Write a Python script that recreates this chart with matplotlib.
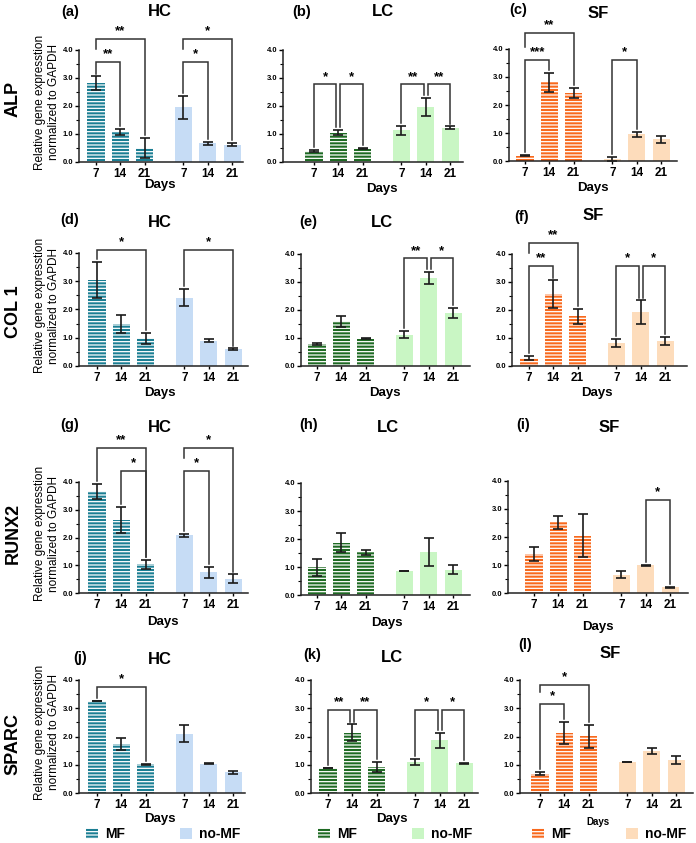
import numpy as np
import matplotlib.pyplot as plt
from matplotlib.patches import Patch

plt.rcParams['font.family'] = ['Liberation Sans', 'DejaVu Sans']
plt.rcParams['hatch.linewidth'] = 0.9

genes = ['ALP', 'COL 1', 'RUNX2', 'SPARC']
groups = ['HC', 'LC', 'SF']
day_labels = ['7', '14', '21', '7', '14', '21']
bar_x = [0, 1, 2, 3.6, 4.6, 5.6]

# each row: MF day 7/14/21, then no-MF day 7/14/21 ; rows HC, LC, SF
alp_mean = [[2.82, 1.07, 0.50, 1.95, 0.67, 0.62],
            [0.39, 1.05, 0.47, 1.13, 1.97, 1.22],
            [0.19, 2.81, 2.43, 0.08, 0.95, 0.77]]
alp_sd = [[0.24, 0.11, 0.35, 0.42, 0.06, 0.05],
          [0.04, 0.10, 0.02, 0.17, 0.32, 0.05],
          [0.02, 0.35, 0.19, 0.07, 0.10, 0.14]]

col1_mean = [[3.05, 1.50, 0.98, 2.42, 0.90, 0.60],
             [0.78, 1.60, 0.98, 1.12, 3.15, 1.90],
             [0.28, 2.56, 1.77, 0.83, 1.92, 0.90]]
col1_sd = [[0.63, 0.32, 0.20, 0.31, 0.06, 0.02],
           [0.03, 0.20, 0.02, 0.12, 0.21, 0.17],
           [0.07, 0.50, 0.26, 0.15, 0.42, 0.14]]

runx2_mean = [[3.67, 2.64, 1.03, 2.08, 0.74, 0.52],
              [0.99, 1.87, 1.52, 0.85, 1.53, 0.91],
              [1.38, 2.52, 2.04, 0.66, 0.99, 0.20]]
runx2_sd = [[0.27, 0.46, 0.15, 0.05, 0.19, 0.15],
            [0.30, 0.34, 0.10, 0.01, 0.50, 0.15],
            [0.25, 0.24, 0.77, 0.14, 0.01, 0.02]]

sparc_mean = [[3.25, 1.73, 1.01, 2.10, 1.04, 0.74],
              [0.88, 2.13, 0.92, 1.11, 1.86, 1.05],
              [0.69, 2.12, 2.01, 1.10, 1.49, 1.16]]
sparc_sd = [[0.01, 0.20, 0.03, 0.31, 0.01, 0.05],
            [0.01, 0.30, 0.17, 0.11, 0.27, 0.01],
            [0.06, 0.40, 0.41, 0.01, 0.10, 0.14]]

# significance brackets: (bar i, bar j, height, label)
alp_sig = [[(0, 1, 3.57, '**'), (0, 2, 4.39, '**'), (3, 4, 3.57, '*'), (3, 5, 4.39, '*')],
           [(0, 1, 2.77, '*'), (1, 2, 2.77, '*'), (3, 4, 2.77, '**'), (4, 5, 2.77, '**')],
           [(0, 1, 3.62, '***'), (0, 2, 4.57, '**'), (3, 4, 3.62, '*')]]
col1_sig = [[(0, 2, 4.12, '*'), (3, 5, 4.12, '*')],
            [(3, 4, 3.84, '**'), (4, 5, 3.84, '*')],
            [(0, 1, 3.57, '**'), (0, 2, 4.40, '**'), (3, 4, 3.57, '*'), (4, 5, 3.57, '*')]]
runx2_sig = [[(0, 2, 5.24, '**'), (1, 2, 4.40, '*'), (3, 5, 5.24, '*'), (3, 4, 4.40, '*')],
             [],
             [(4, 5, 3.32, '*')]]
sparc_sig = [[(0, 2, 3.74, '*')],
             [(0, 1, 2.93, '**'), (1, 2, 2.93, '**'), (3, 4, 2.93, '*'), (4, 5, 2.93, '*')],
             [(0, 1, 3.14, '*'), (0, 2, 3.82, '*')]]

means = [alp_mean, col1_mean, runx2_mean, sparc_mean]
sds = [alp_sd, col1_sd, runx2_sd, sparc_sd]
sigs = [alp_sig, col1_sig, runx2_sig, sparc_sig]

mf_colors = ['#1b7e93', '#1e6a23', '#f8691d']
nomf_colors = ['#c6dcf5', '#c9f6c4', '#fddcbb']

W, H = 696, 843
# panel layout in pixels: left, right, top(4.0), bottom(0.0), first bar centre
layout = [[(79, 243, 50, 162, 96), (283, 463, 50, 162, 314), (509, 677, 49, 161, 525)],
          [(79, 248, 253, 366, 97), (301, 470, 254, 366, 317), (512, 687, 254, 366, 529)],
          [(79, 248, 482, 593, 97), (301, 470, 483, 595, 317), (508, 688, 481, 593, 534)],
          [(79, 245, 680, 793, 97), (311, 478, 680, 793, 328), (520, 693, 680, 793, 540)]]
# title x, title y, letter x, letter y, days x, days y
titles = [[(160, 12, 70, 12, 160, 185), (383, 12, 302, 12, 382, 189), (598, 13, 518, 10, 593, 188)],
          [(160, 223, 70, 220, 160, 393), (382, 223, 308, 222, 385, 393), (593, 215, 522, 217, 597, 393)],
          [(160, 428, 70, 425, 163, 622), (388, 428, 309, 425, 387, 623), (609, 428, 523, 425, 598, 627)],
          [(160, 660, 80, 658, 160, 819), (392, 657, 312, 655, 392, 819), (610, 653, 525, 645, 598, 822)]]
letters = 'abcdefghijkl'
row_label_y = [99, 312, 533, 744]

fig = plt.figure(figsize=(W / 100, H / 100), dpi=100)
u = 24.3

for r in range(4):
    for c in range(3):
        L, R, T, B, b0 = layout[r][c]
        ax = fig.add_axes([L / W, 1 - B / H, (R - L) / W, (B - T) / H])
        ax.set_xlim((L - b0) / u, (R - b0) / u)
        ax.set_ylim(0, 4)
        m = means[r][c]
        s = sds[r][c]
        ekw = dict(ecolor='#1a1a1a', elinewidth=1.2, capsize=3.5, capthick=1.2)
        ax.bar(bar_x[:3], m[:3], 0.7, yerr=s[:3], color=mf_colors[c], edgecolor='white',
               linewidth=0, hatch='-----', error_kw=ekw)
        ax.bar(bar_x[3:], m[3:], 0.7, yerr=s[3:], color=nomf_colors[c], linewidth=0,
               error_kw=ekw)

        tops = [m[k] + s[k] for k in range(6)]
        br = sigs[r][c]
        for (i, j, y, lab) in br:
            x1, x2 = bar_x[i], bar_x[j]
            if any(b[1] == i and b[2] == y for b in br):
                x1 += 0.08
            if any(b[0] == j and b[2] == y for b in br):
                x2 -= 0.08
            y1 = tops[i] + 0.1
            lower = [b[2] for b in br if b[0] == i and b[2] < y]
            if lower:
                y1 = max(lower) + 0.45
            y2 = tops[j] + 0.1
            ax.plot([x1, x1, x2, x2], [y1, y, y, y2], color='#333333', lw=1.1,
                    clip_on=False, solid_joinstyle='miter')
            ax.text((x1 + x2) / 2, y + 0.06, lab, ha='center', va='bottom',
                    fontsize=9.5, fontweight='bold', clip_on=False)

        for sp in ['top', 'right']:
            ax.spines[sp].set_visible(False)
        for sp in ['left', 'bottom']:
            ax.spines[sp].set_linewidth(1.1)
            ax.spines[sp].set_color('#222222')
        ax.set_yticks([0, 1, 2, 3, 4])
        ax.set_yticklabels(['0.0', '1.0', '2.0', '3.0', '4.0'], fontsize=5.5,
                           fontweight='bold')
        ax.set_yticks(np.arange(0.5, 4, 1), minor=True)
        ax.tick_params(axis='y', which='major', length=3, width=1, pad=1)
        ax.tick_params(axis='y', which='minor', length=2, width=0.8)
        ax.set_xticks(bar_x)
        ax.set_xticklabels(day_labels, fontsize=8.5, fontweight='bold')
        ax.tick_params(axis='x', length=2.5, width=1, pad=1.5)

        tx, ty, lx, ly, dx, dy = titles[r][c]
        fig.text(tx / W, 1 - ty / H, groups[c], fontsize=12, fontweight='bold',
                 ha='center', va='center')
        fig.text(lx / W, 1 - ly / H, '(' + letters[r * 3 + c] + ')', fontsize=10.5,
                 fontweight='bold', ha='center', va='center')
        dsize = 7 if (r == 3 and c == 2) else 9.5
        fig.text(dx / W, 1 - dy / H, 'Days', fontsize=dsize, fontweight='bold',
                 ha='center', va='center')

        if c == 0:
            fig.text(47 / W, 1 - ((T + B) / 2 - 4) / H,
                     'Relative gene expresstion\nnormalized to GAPDH', rotation=90,
                     fontsize=8.5, ha='center', va='center', multialignment='center',
                     linespacing=1.3)
            fig.text(13 / W, 1 - row_label_y[r] / H, genes[r], rotation=90, fontsize=13,
                     fontweight='bold', ha='center', va='center')

legend_x = [86, 318, 532]
for c in range(3):
    handles = [Patch(facecolor=mf_colors[c], edgecolor='white', linewidth=0, hatch='-----',
                     label='MF'),
               Patch(facecolor=nomf_colors[c], linewidth=0, label='no-MF')]
    fig.legend(handles=handles, loc='center left', ncol=2, frameon=False,
               bbox_to_anchor=(legend_x[c] / W, 1 - 834 / H), borderpad=0,
               borderaxespad=0, handlelength=0.85, handleheight=0.85,
               handletextpad=0.5, columnspacing=4.0,
               prop={'size': 10, 'weight': 'bold'})

fig.savefig('out.png', dpi=100)
